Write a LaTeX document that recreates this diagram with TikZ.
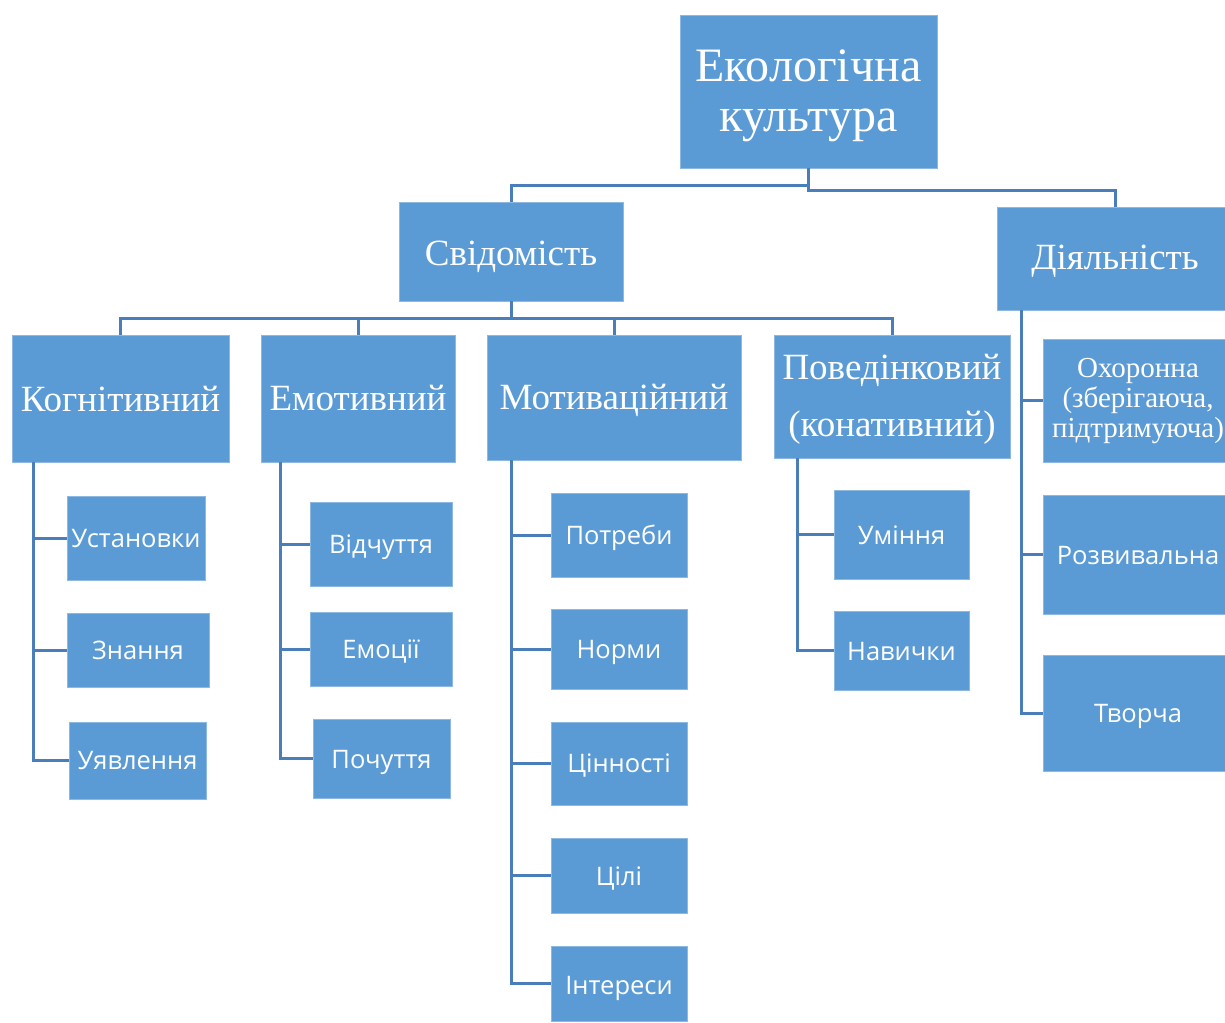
\documentclass[tikz,border=0pt]{standalone}
\usepackage{fontspec}
\setmainfont{Liberation Serif}
\newfontfamily\boxsans{Open Sans}
\definecolor{boxfill}{HTML}{5B9BD5}
\definecolor{boxedge}{HTML}{8DB8E2}
\definecolor{conn}{HTML}{4A7EBB}
\begin{document}
\begin{tikzpicture}[x=1pt,y=-1pt,
  box/.style={fill=boxfill,draw=boxedge,line width=0.8pt,inner sep=0pt},
  lbl/.style={text=white,align=center,inner sep=0pt},
  serifbig/.style={lbl,font=\fontsize{48}{50}\selectfont},
  serifmid/.style={lbl,font=\fontsize{37}{57}\selectfont},
  serifsmall/.style={lbl,font=\fontsize{29}{30}\selectfont},
  sansbox/.style={lbl,font=\boxsans\fontsize{25.5}{30}\selectfont},
  link/.style={draw=conn,line width=3pt}]
\useasboundingbox (0,0) rectangle (1225,1022);
% helper: box by corners, then its label (style, name, x1, y1, x2, y2, shift down, text)
\newcommand\bx[8]{%
  \node[box,minimum width={#5-#3},minimum height={#6-#4}] (#2) at ({(#3+#5)/2},{(#4+#6)/2}) {};
  \node[#1,yshift=-#7pt] (#2-t) at (#2.center) {#8};}
\bx{serifbig}{eko}{680}{15}{937}{168}{4}{Екологічна\\культура}
\bx{serifmid}{svid}{399}{202}{623}{301}{5}{Свідомість}
\bx{serifmid}{diya}{997}{207}{1233}{310}{3}{Діяльність}
\bx{serifmid}{kog}{12}{335}{229}{462}{1}{Когнітивний}
\bx{serifmid}{emot}{261}{335}{455}{462}{0}{Емотивний}
\bx{serifmid}{motyv}{487}{335}{741}{460}{3}{Мотиваційний}
\bx{serifmid}{pov}{774}{335}{1010}{458}{3}{Поведінковий\\(конативний)}
\bx{serifsmall}{okh}{1043}{339}{1233}{462}{1}{Охоронна\\(зберігаюча,\\підтримуюча)}
\bx{sansbox}{rozv}{1043}{495}{1233}{614}{1}{Розвивальна}
\bx{sansbox}{tvor}{1043}{655}{1233}{771}{3}{Творча}
\bx{sansbox}{ust}{67}{496}{205}{580}{1}{Установки}
\bx{sansbox}{znan}{67}{613}{209}{687}{0}{Знання}
\bx{sansbox}{uyav}{69}{722}{206}{799}{0}{Уявлення}
\bx{sansbox}{vidch}{310}{502}{452}{586}{3}{Відчуття}
\bx{sansbox}{emoc}{310}{612}{452}{686}{2}{Емоції}
\bx{sansbox}{poch}{313}{719}{450}{798}{4}{Почуття}
\bx{sansbox}{potr}{551}{493}{687}{577}{3}{Потреби}
\bx{sansbox}{norm}{551}{609}{687}{689}{3}{Норми}
\bx{sansbox}{tsin}{551}{722}{687}{805}{2}{Цінності}
\bx{sansbox}{tsil}{551}{838}{687}{913}{3}{Цілі}
\bx{sansbox}{inter}{551}{946}{687}{1021}{5}{Інтереси}
\bx{sansbox}{umin}{834}{490}{969}{579}{1}{Уміння}
\bx{sansbox}{navy}{834}{611}{969}{690}{1}{Навички}
% top level
\coordinate (ja) at (808,185);
\coordinate (jb) at (808,190);
\draw[link] (ja) -- (ja -| svid.north) -- (svid.north);
\draw[link] (eko.south -| ja) -- (jb) -- (jb -| 1115,0) -- (diya.north -| 1115,0);
% second level
\coordinate (jc) at (511,318);
\draw[link] (svid.south) -- (jc);
\draw[link] (kog.north) -- (kog.north |- jc) -- (pov.north |- jc) -- (pov.north);
\draw[link] (emot.north) -- (emot.north |- jc);
\draw[link] (motyv.north) -- (motyv.north |- jc);
% lists
\coordinate (lk) at (33,462);
\draw[link] (lk) |- (uyav.west);
\draw[link] (ust.west) -- (ust.west -| lk);
\draw[link] (znan.west) -- (znan.west -| lk);
\coordinate (le) at (280,462);
\draw[link] (le) |- (poch.west);
\draw[link] (vidch.west) -- (vidch.west -| le);
\draw[link] (emoc.west) -- (emoc.west -| le);
\coordinate (lm) at (511,460);
\draw[link] (lm) |- (inter.west);
\draw[link] (potr.west) -- (potr.west -| lm);
\draw[link] (norm.west) -- (norm.west -| lm);
\draw[link] (tsin.west) -- (tsin.west -| lm);
\draw[link] (tsil.west) -- (tsil.west -| lm);
\coordinate (lp) at (797,458);
\draw[link] (lp) |- (navy.west);
\draw[link] (umin.west) -- (umin.west -| lp);
\coordinate (ld) at (1021,310);
\draw[link] (ld) |- (tvor.west);
\draw[link] (okh.west) -- (okh.west -| ld);
\draw[link] (rozv.west) -- (rozv.west -| ld);
\end{tikzpicture}
\end{document}
